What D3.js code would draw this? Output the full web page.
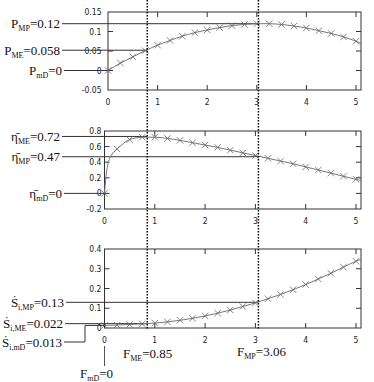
<!DOCTYPE html>
<html>
<head>
<meta charset="utf-8">
<script src="https://cdn.jsdelivr.net/npm/d3@7"></script>
<style>
  body { margin: 0; background: #fff; }
  .tick-label { font-family: "Liberation Sans Narrow", "DejaVu Sans Condensed", sans-serif; font-size: 8.5px; fill: #222; }
  .ann { font-family: "Liberation Serif", "Times New Roman", serif; font-size: 13px; fill: #111; }
</style>
</head>
<body>
<div id="chart"></div>
<script>
// load values (marker positions)
const loadF = [0, 0.25, 0.5, 0.75, 1, 1.25, 1.5, 1.75, 2, 2.25, 2.5, 2.75, 3, 3.25, 3.5, 3.75, 4, 4.25, 4.5, 4.75, 5];
const power = [0, 0.019, 0.035, 0.051, 0.065, 0.077, 0.088, 0.097, 0.104, 0.110, 0.115, 0.118, 0.120, 0.120, 0.118, 0.114, 0.109, 0.102, 0.095, 0.086, 0.075];
const efficiency = [0, 0.57, 0.69, 0.72, 0.72, 0.705, 0.68, 0.65, 0.62, 0.59, 0.555, 0.52, 0.485, 0.45, 0.415, 0.38, 0.34, 0.30, 0.26, 0.22, 0.18];
const entropy = [0.013, 0.015, 0.018, 0.021, 0.025, 0.031, 0.039, 0.049, 0.061, 0.075, 0.091, 0.109, 0.127, 0.148, 0.170, 0.194, 0.220, 0.248, 0.277, 0.308, 0.338];

// extra points of the drawn curves (steep start of efficiency, right edge)
const effStartF = [0.03, 0.07, 0.12, 0.18];
const effStart = [0.22, 0.38, 0.47, 0.53];
const edgeF = 5.1;
const edgeValues = [0.069, 0.165, 0.348];

const yTicksP = [-0.05, 0, 0.05, 0.1, 0.15];
const yTicksEta = [-0.2, 0, 0.2, 0.4, 0.6, 0.8];
const yTicksS = [0, 0.1, 0.2, 0.3, 0.4];
const xTicks = [0, 1, 2, 3, 4, 5];

const F_ME = 0.85, F_MP = 3.06;

const svg = d3.select("#chart").append("svg")
    .attr("width", 374)
    .attr("height", 382);

svg.append("rect").attr("width", 374).attr("height", 382).attr("fill", "#fff");

function panel(opt) {
    const x = d3.scaleLinear().domain([0, 5]).range([opt.left, 356]);
    const y = d3.scaleLinear().domain(opt.yDomain).range([opt.bottom, opt.top]);
    const x1 = x(edgeF) > 361 ? 361 : x(edgeF);
    const g = svg.append("g");

    // frame
    g.append("rect")
        .attr("x", opt.left).attr("y", opt.top)
        .attr("width", 361 - opt.left).attr("height", opt.bottom - opt.top)
        .attr("fill", "none").attr("stroke", "#333").attr("stroke-width", 1);

    // ticks inside on all four sides
    xTicks.forEach(function (t) {
        if (t === 0) return;
        g.append("line").attr("x1", x(t)).attr("x2", x(t)).attr("y1", opt.bottom).attr("y2", opt.bottom - 5)
            .attr("stroke", "#333");
        g.append("line").attr("x1", x(t)).attr("x2", x(t)).attr("y1", opt.top).attr("y2", opt.top + 5)
            .attr("stroke", "#333");
    });
    opt.yTicks.forEach(function (t, i) {
        if (i === 0 || i === opt.yTicks.length - 1) return;
        g.append("line").attr("x1", opt.left).attr("x2", opt.left + 5).attr("y1", y(t)).attr("y2", y(t))
            .attr("stroke", "#333");
        g.append("line").attr("x1", 361).attr("x2", 356).attr("y1", y(t)).attr("y2", y(t))
            .attr("stroke", "#333");
    });

    // tick labels
    g.selectAll(".xl").data(xTicks).enter().append("text")
        .attr("class", "tick-label")
        .attr("x", function (d) { return x(d); })
        .attr("y", opt.bottom + 15)
        .attr("text-anchor", "middle")
        .text(function (d) { return d; });
    g.selectAll(".yl").data(opt.yTicks).enter().append("text")
        .attr("class", "tick-label")
        .attr("x", 101.5)
        .attr("y", function (d) { return y(d) + 3; })
        .attr("text-anchor", "end")
        .text(function (d) { return d; });

    // annotation lines from left labels
    opt.notes.forEach(function (n) {
        const ly = y(n.level);
        const xEnd = n.toF == null ? opt.left : x(n.toF);
        g.append("line")
            .attr("x1", n.lineStart).attr("x2", xEnd)
            .attr("y1", ly).attr("y2", ly)
            .attr("stroke", "#333").attr("stroke-width", 1);
        const t = g.append("text").attr("class", "ann")
            .attr("x", n.lineStart - 2).attr("y", ly + 4.5)
            .attr("text-anchor", "end");
        t.append("tspan").text(n.sym);
        t.append("tspan").attr("font-size", "8px").attr("dy", 3).text(n.sub);
        t.append("tspan").attr("dy", -3).text("=" + n.val);
    });

    // curve
    const pts = [];
    opt.extraF.forEach(function (f, i) { pts.push([f, opt.extra[i]]); });
    loadF.forEach(function (f, i) { pts.push([f, opt.values[i]]); });
    pts.push([edgeF, opt.edge]);
    pts.sort(function (a, b) { return a[0] - b[0]; });

    const line = d3.line()
        .x(function (d) { return Math.min(x(d[0]), x1); })
        .y(function (d) { return y(d[1]); })
        .curve(d3.curveMonotoneX);
    g.append("path").datum(pts)
        .attr("d", line)
        .attr("fill", "none").attr("stroke", "#777").attr("stroke-width", 1);

    // x markers
    const s = 3.2;
    g.selectAll(".mk").data(loadF).enter().append("path")
        .attr("d", function (d, i) {
            const cx = x(d), cy = y(opt.values[i]);
            return "M" + (cx - s) + "," + (cy - s) + "L" + (cx + s) + "," + (cy + s) +
                "M" + (cx - s) + "," + (cy + s) + "L" + (cx + s) + "," + (cy - s);
        })
        .attr("stroke", "#666").attr("stroke-width", 0.8).attr("fill", "none");

    return { x: x, y: y };
}

const topPanel = panel({
    left: 108, top: 12, bottom: 90,
    yDomain: [-0.05, 0.15], yTicks: yTicksP,
    values: power, extraF: [], extra: [], edge: edgeValues[0],
    notes: [
        { sym: "P", sub: "MP", val: "0.12", level: 0.12, lineStart: 62, toF: F_MP },
        { sym: "P", sub: "ME", val: "0.058", level: 0.052, lineStart: 62, toF: 0.8 },
        { sym: "P", sub: "mD", val: "0", level: 0, lineStart: 64, toF: null }
    ]
});

const midPanel = panel({
    left: 104.5, top: 131, bottom: 209,
    yDomain: [-0.2, 0.8], yTicks: yTicksEta,
    values: efficiency, extraF: effStartF, extra: effStart, edge: edgeValues[1],
    notes: [
        { sym: "η̄", sub: "ME", val: "0.72", level: 0.73, lineStart: 62, toF: F_ME },
        { sym: "η̄", sub: "MP", val: "0.47", level: 0.47, lineStart: 62, toF: F_MP },
        { sym: "η̄", sub: "mD", val: "0", level: 0, lineStart: 64, toF: null }
    ]
});

const botPanel = panel({
    left: 104.5, top: 249, bottom: 328,
    yDomain: [0, 0.4], yTicks: yTicksS,
    values: entropy, extraF: [], extra: [], edge: edgeValues[2],
    notes: [
        { sym: "Ṡ", sub: "i,MP", val: "0.13", level: 0.13, lineStart: 66, toF: F_MP },
        { sym: "Ṡ", sub: "i,ME", val: "0.022", level: 0.022, lineStart: 65, toF: F_ME }
    ]
});

// S_mD label with elbow connector
const smdY = botPanel.y(0.013);
svg.append("path")
    .attr("d", "M64,342H85V" + smdY + "H" + botPanel.x(0))
    .attr("fill", "none").attr("stroke", "#333");
const smd = svg.append("text").attr("class", "ann").attr("x", 62).attr("y", 346.5).attr("text-anchor", "end");
smd.append("tspan").text("Ṡ");
smd.append("tspan").attr("font-size", "8px").attr("dy", 3).text("i,mD");
smd.append("tspan").attr("dy", -3).text("=0.013");

// vertical dotted lines at F_ME and F_MP
[F_ME, F_MP].forEach(function (f) {
    svg.append("line")
        .attr("x1", midPanel.x(f)).attr("x2", midPanel.x(f))
        .attr("y1", 0).attr("y2", 329)
        .attr("stroke", "#000").attr("stroke-width", 1.5)
        .attr("stroke-dasharray", "1.5,1.5");
});

// F labels below the lower panel
function fLabel(xp, yp, sub, val, anchor) {
    const t = svg.append("text").attr("class", "ann").attr("x", xp).attr("y", yp).attr("text-anchor", anchor);
    t.append("tspan").text("F");
    t.append("tspan").attr("font-size", "8px").attr("dy", 3).text(sub);
    t.append("tspan").attr("dy", -3).text("=" + val);
}
fLabel(123, 358, "ME", "0.85", "start");
fLabel(237, 356, "MP", "3.06", "start");

svg.append("line")
    .attr("x1", botPanel.x(0)).attr("x2", botPanel.x(0))
    .attr("y1", 346).attr("y2", 366)
    .attr("stroke", "#555");
fLabel(80, 378, "mD", "0", "start");
</script>
</body>
</html>
